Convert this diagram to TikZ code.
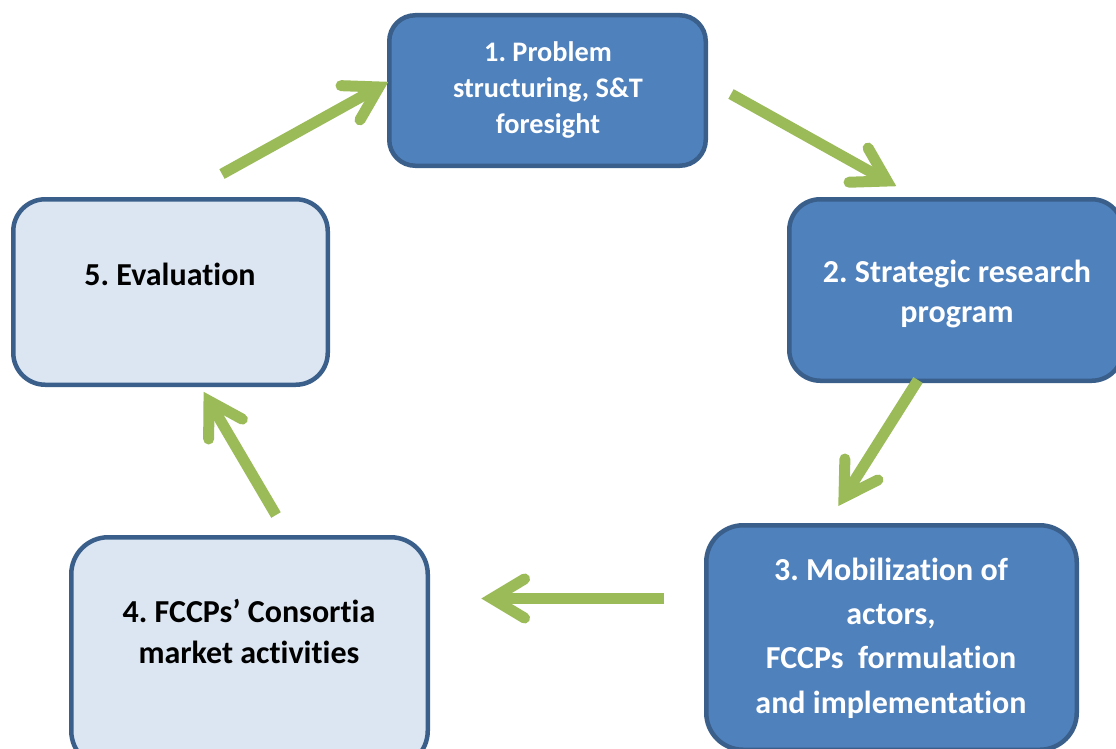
\documentclass[tikz,border=0pt]{standalone}
\usepackage{fontspec}
\setmainfont{Carlito}[Ligatures=NoCommon]
\frenchspacing
\usetikzlibrary{calc}
\definecolor{darkfill}{HTML}{4F81BD}
\definecolor{lightfill}{HTML}{DCE6F2}
\definecolor{boxborder}{HTML}{3A5F8B}
\definecolor{arrowgreen}{HTML}{9BBB59}
\tikzset{
  boxbase/.style={draw=boxborder, line width=4.5pt, inner sep=0pt, rounded corners=#1},
  darkbox/.style={boxbase=#1, fill=darkfill},
  lightbox/.style={boxbase=#1, fill=lightfill},
  whitetxt/.style={text=white, font=\frenchspacing\bfseries\fontsize{32}{40}\selectfont, align=center, inner sep=0pt},
  blacktxt/.style={text=black, font=\frenchspacing\bfseries\fontsize{32}{41}\selectfont, align=center, inner sep=0pt},
  shaft/.style={draw=arrowgreen, line width=11pt, line cap=butt},
  head/.style={draw=arrowgreen, line width=11pt, line cap=round, line join=miter}
}
\newcommand\greenarrow[2]{%
  \draw[shaft] (#1) -- (#2);
  \draw[head] ($(#2)!38pt!31:(#1)$) -- (#2) -- ($(#2)!38pt!-31:(#1)$);
}
\begin{document}
\begin{tikzpicture}[x=1pt,y=-1pt]
\useasboundingbox (0,0) rectangle (1116,749);
\clip (0,0) rectangle (1116,749);
% boxes
\node[darkbox=26pt, minimum width=316.5pt, minimum height=150.5pt] (b1) at (547.5,90.5) {};
\node[darkbox=31pt, minimum width=333.5pt, minimum height=181.5pt] (b2) at (956,290) {};
\node[darkbox=37pt, minimum width=370.5pt, minimum height=224.5pt] (b3) at (891.5,637.5) {};
\node[lightbox=37pt, minimum width=356.5pt, minimum height=230.5pt] (b4) at (249.5,652.5) {};
\node[lightbox=32pt, minimum width=314.5pt, minimum height=185.5pt] (b5) at (170.5,292) {};
% texts
\node[whitetxt, font=\frenchspacing\bfseries\fontsize{28.3}{36}\selectfont] (t1) at (548,90) {1. Problem\\structuring, S\&T\\foresight};
\node[whitetxt] (t2) at (957,294) {2. Strategic research\\program};
\node[whitetxt, font=\frenchspacing\bfseries\fontsize{32}{44.3}\selectfont] (t3) at (891,638) {3. Mobilization of\\actors,\\FCCPs\ \ formulation\\and implementation};
\node[blacktxt] (t4) at (249,631.5) {4. FCCPs’ Consortia\\market activities};
\node[blacktxt] (t5) at (170,274) {5. Evaluation};
% arrow end points
\coordinate (a51s) at (222,174);
\coordinate (a51e) at (379,87);
\coordinate (a12s) at (731,94);
\coordinate (a12e) at (887,181);
\coordinate (a23s) at (918,380);
\coordinate (a23e) at (844,497);
\coordinate (a34s) at (664,598.5);
\coordinate (a34e) at (492,598.5);
\coordinate (a45s) at (276,515);
\coordinate (a45e) at (209,401);
\greenarrow{a51s}{a51e}
\greenarrow{a12s}{a12e}
\greenarrow{a23s}{a23e}
\greenarrow{a34s}{a34e}
\greenarrow{a45s}{a45e}
\end{tikzpicture}
\end{document}
